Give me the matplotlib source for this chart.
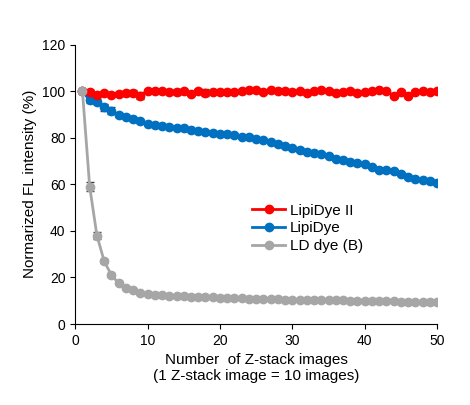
import numpy as np
import matplotlib.pyplot as plt
from matplotlib.lines import Line2D

plt.rcParams['font.family'] = ['Liberation Sans', 'DejaVu Sans']

x = np.arange(1, 51)
lipidye2 = [100, 99.5, 98.5, 99, 98.5, 98.8, 99, 99.3, 98, 100,
            100.2, 100, 99.8, 99.5, 100, 98.7, 100.2, 99.2, 99.5, 99.8,
            99.8, 99.7, 100, 100.3, 100.5, 99.8, 100.5, 100.2, 100.2, 99.8,
            100, 99.3, 100, 100.3, 100.2, 99.2, 99.5, 100.2, 99, 99.5,
            100, 100.3, 100, 98, 99.8, 98, 99.8, 100, 99.8, 100]
lipidye2_err = [0, 1, 1, 0.8, 0.8, 0.8, 1, 1, 1.5, 0.8,
                0.5, 0.5, 0.5, 1.2, 0.5, 0.5, 0.5, 1.5, 0.5, 0.5,
                0.5, 0.5, 0.5, 0.5, 0.5, 0.5, 0.5, 0.5, 0.5, 0.5,
                0.5, 0.5, 0.5, 0.5, 0.5, 1, 0.5, 0.5, 0.5, 0.5,
                0.5, 0.5, 0.5, 0.5, 0.5, 0.5, 0.5, 0.5, 0.5, 0.5]
lipidye = [100, 96, 95.5, 93, 91.5, 89.8, 89, 88, 87, 86,
           85.5, 85, 84.5, 84.3, 84, 83.5, 83, 82.5, 82.2, 81.8,
           81.5, 81, 80.5, 80.2, 79.5, 79, 78, 77.3, 76.5, 75.5,
           74.8, 74, 73.5, 73, 72, 71, 70.5, 69.5, 69.2, 68.5,
           67.3, 66.3, 66, 65.8, 64.5, 63, 62.3, 62, 61.5, 60.5]
lipidye_err = [0, 1, 1, 1.5, 1.5, 1, 0.5, 0.5, 0.5, 0.5] + [0.4] * 40
ld_dye = [100, 59, 38, 27, 21, 17.5, 15.5, 14.5, 13.5, 13,
          12.6, 12.3, 12.2, 12, 12, 11.8, 11.8, 11.6, 11.5, 11.2,
          11.2, 11, 11, 10.9, 10.8, 10.7, 10.6, 10.6, 10.5, 10.5,
          10.5, 10.4, 10.4, 10.3, 10.2, 10.2, 10.1, 10, 10, 9.9,
          9.8, 9.8, 9.8, 9.7, 9.6, 9.6, 9.4, 9.3, 9.4, 9.5]
ld_dye_err = [0, 2, 1.5, 1, 0.8, 0.5, 0.5, 0.5, 0.3, 0.3] + [0.3] * 40

labels = ['LipiDye II', 'LipiDye', 'LD dye (B)']
colors = ['#ff0000', '#0070c0', '#a6a6a6']

fig, ax = plt.subplots(figsize=(4.7, 4.05), dpi=100)
series = [(lipidye2, lipidye2_err, 3), (lipidye, lipidye_err, 2), (ld_dye, ld_dye_err, 4)]
for (y, err, z), c in zip(series, colors):
    ax.errorbar(x, y, yerr=err, color=c, marker='o', ms=6, lw=2,
                ecolor='#404040', elinewidth=0.8, capsize=3, zorder=z)

ax.set_xlim(0, 50)
ax.set_ylim(0, 120)
ax.set_xticks([0, 10, 20, 30, 40, 50])
ax.set_yticks(range(0, 121, 20))
ax.spines['top'].set_visible(False)
ax.spines['right'].set_visible(False)
ax.tick_params(labelsize=10, direction='out')
ax.set_xlabel('Number  of Z-stack images\n(1 Z-stack image = 10 images)', fontsize=11)
ax.set_ylabel('Normarized FL intensity (%)', fontsize=11)

handles = [Line2D([], [], color=c, marker='o', ms=6, lw=2) for c in colors]
ax.legend(handles, labels, loc='upper left', bbox_to_anchor=(0.45, 0.48), frameon=False,
          fontsize=11, handlelength=2.2, handletextpad=0.3, labelspacing=0.25)
fig.subplots_adjust(left=0.16, right=0.93, top=0.89, bottom=0.2)
fig.savefig('out.png')
